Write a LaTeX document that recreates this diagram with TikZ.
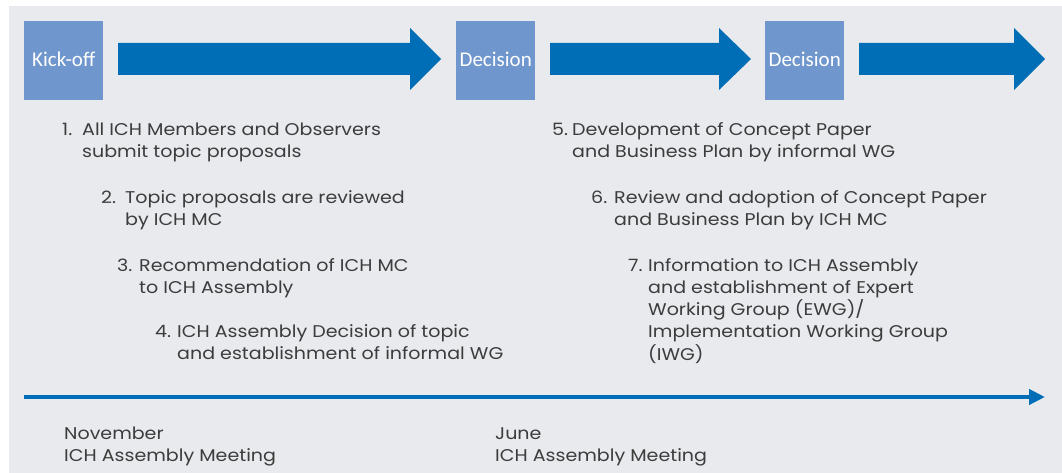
\documentclass[tikz,border=0pt]{standalone}
\usepackage{fontspec}
\setmainfont{Poppins}[FakeStretch=1.12]
\newfontfamily\boxfont{Carlito}
\usetikzlibrary{arrows.meta}
\definecolor{bggray}{HTML}{E8EAED}
\definecolor{boxblue}{HTML}{6F97CD}
\definecolor{arrowblue}{HTML}{006EB7}
\definecolor{txtgray}{HTML}{3C3C3C}
\newcommand{\tlitem}[3]{\begin{tabular}[t]{@{}p{#1}@{}l@{}}#2 & #3\end{tabular}}
\tikzset{
  milestone/.style={fill=boxblue, minimum width=79pt, minimum height=79pt, inner sep=0pt,
    font=\boxfont\fontsize{21}{22}\selectfont, text=white, anchor=north west},
  stepitem/.style={anchor=base west, inner sep=0pt, text=txtgray,
    font=\fontsize{17}{22}\selectfont},
  blockarrow/.style={fill=arrowblue},
  timeline/.style={draw=arrowblue, line width=4pt, -{Triangle[length=16pt,width=15pt]}}
}
\begin{document}
\begin{tikzpicture}[x=1pt,y=-1pt]
\useasboundingbox (0,0) rectangle (1062,473);
\fill[bggray] (9,6) rectangle (1062,473);
% milestone boxes
\node[milestone] (kick) at (24,21) {\raisebox{2pt}{Kick-off}};
\node[milestone] (dec1) at (456,21) {\raisebox{2pt}{Decision}};
\node[milestone] (dec2) at (765,21) {\raisebox{2pt}{Decision}};
% block arrows
\fill[blockarrow] (118,43) -- (410,43) -- (410,28) -- (441,59) -- (410,90) -- (410,75) -- (118,75) -- cycle;
\fill[blockarrow] (550,43) -- (719,43) -- (719,28) -- (751,59) -- (719,90) -- (719,75) -- (550,75) -- cycle;
\fill[blockarrow] (859,43) -- (1014,43) -- (1014,28) -- (1045,59) -- (1014,90) -- (1014,75) -- (859,75) -- cycle;
% steps
\node[stepitem] (s1) at (62,136) {\tlitem{20pt}{1.}{All ICH Members and Observers\\ & submit topic proposals}};
\node[stepitem] (s2) at (101,204) {\tlitem{24pt}{2.}{Topic proposals are reviewed\\ & by ICH MC}};
\node[stepitem] (s3) at (117,271) {\tlitem{22pt}{3.}{Recommendation of ICH MC\\ & to ICH Assembly}};
\node[stepitem] (s4) at (155,337) {\tlitem{22pt}{4.}{ICH Assembly Decision of topic\\ & and establishment of informal WG}};
\node[stepitem] (s5) at (552,136) {\tlitem{20pt}{5.}{Development of Concept Paper\\ & and Business Plan by informal WG}};
\node[stepitem] (s6) at (591,204) {\tlitem{23pt}{6.}{Review and adoption of Concept Paper\\ & and Business Plan by ICH MC}};
\node[stepitem] (s7) at (628,271) {\tlitem{20pt}{7.}{Information to ICH Assembly\\ & and establishment of Expert\\ & Working Group (EWG)/\\ & Implementation Working Group\\ & (IWG)}};
% timeline
\coordinate (tlstart) at (24,397);
\coordinate (tlend) at (1045,397);
\draw[timeline] (tlstart) -- (tlend);
\node[stepitem] (nov) at (64,439) {\tlitem{0pt}{}{November\\ & ICH Assembly Meeting}};
\node[stepitem] (jun) at (495,439) {\tlitem{0pt}{}{June\\ & ICH Assembly Meeting}};
\end{tikzpicture}
\end{document}
